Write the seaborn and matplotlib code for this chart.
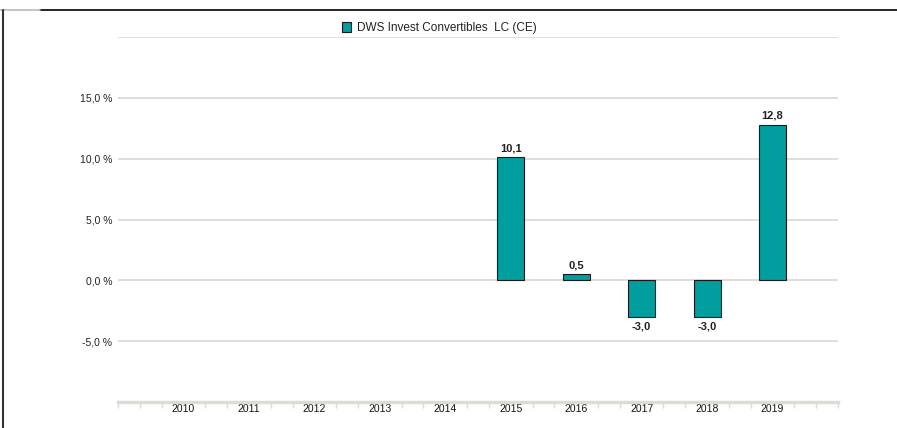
import numpy as np
import pandas as pd
import matplotlib
matplotlib.use("Agg")
import matplotlib.pyplot as plt
from matplotlib.lines import Line2D
import seaborn as sns

years = ["2010", "2011", "2012", "2013", "2014", "2015", "2016", "2017", "2018", "2019"]
bar_years = ["2015", "2016", "2017", "2018", "2019"]
returns = [10.1, 0.5, -3.0, -3.0, 12.8]
series_name = "DWS Invest Convertibles  LC (CE)"
ytick_vals = [-5, 0, 5, 10, 15, 20]
ytick_labels = ["-5,0 %", "0,0 %", "5,0 %", "10,0 %", "15,0 %", ""]

sns.set_theme(style="white")
plt.rcParams["font.family"] = ["Liberation Sans", "DejaVu Sans"]

df = pd.DataFrame({"year": bar_years, "ret": returns})

fig = plt.figure(figsize=(8.97, 4.28), dpi=100)
ax = fig.add_axes([118 / 897, 1 - 402 / 428, (838 - 118) / 897, (402 - 37) / 428])

grid_c = "#dddbd3"
bar_c = "#009e9e"

sns.barplot(data=df, x="year", y="ret", order=years, color=bar_c, width=0.41,
            edgecolor="#1a1a1a", linewidth=0.8, saturation=1, ax=ax,
            label=series_name, errorbar=None)

ax.set_xlim(-1, 10)
ax.set_ylim(-10, 20)
ax.set_yticks(ytick_vals)
ax.set_yticklabels(ytick_labels, fontsize=7.5, color="#222222")
ax.yaxis.grid(True, color=grid_c, linewidth=1.3)
ax.set_axisbelow(True)
ax.tick_params(axis="y", length=0, pad=4)
ax.set_xlabel("")
ax.set_ylabel("")

for s in ["left", "right", "top"]:
    ax.spines[s].set_visible(False)
ax.spines["bottom"].set_color(grid_c)
ax.spines["bottom"].set_linewidth(2.5)

ax.tick_params(axis="x", which="major", bottom=False, length=0, pad=1.5, labelsize=7.5, labelcolor="#111111")
minor = [i / 3 for i in range(-3, 31) if i % 3 != 0] + [-1.0, 10.0]
ax.set_xticks(minor, minor=True)
ax.tick_params(axis="x", which="minor", bottom=True, length=4, width=1, color=grid_c, direction="out")

labels = [f"{v:.1f}".replace(".", ",") for v in returns]
ax.bar_label(ax.containers[0], labels=labels, padding=3, fontsize=8,
             fontweight="bold", color="#222222")

leg = ax.legend(loc="upper center", bbox_to_anchor=(0.5 - 9 / 897, 1 - 11 / 428),
                bbox_transform=fig.transFigure, frameon=False, fontsize=8.5,
                handlelength=0.8, handleheight=1.0, handletextpad=0.5)
for t in leg.get_texts():
    t.set_color("#222222")

fig.add_artist(Line2D([40 / 897, 1], [1 - 9.5 / 428, 1 - 9.5 / 428], color="black", linewidth=1.2))
fig.add_artist(Line2D([0, 40 / 897], [1 - 9.5 / 428, 1 - 9.5 / 428], color="#bbbbbb", linewidth=1.2))
fig.add_artist(Line2D([2.5 / 897, 2.5 / 897], [0, 1 - 9.5 / 428], color="#333333", linewidth=1.5))

fig.savefig("out.png", dpi=100, facecolor="white")
